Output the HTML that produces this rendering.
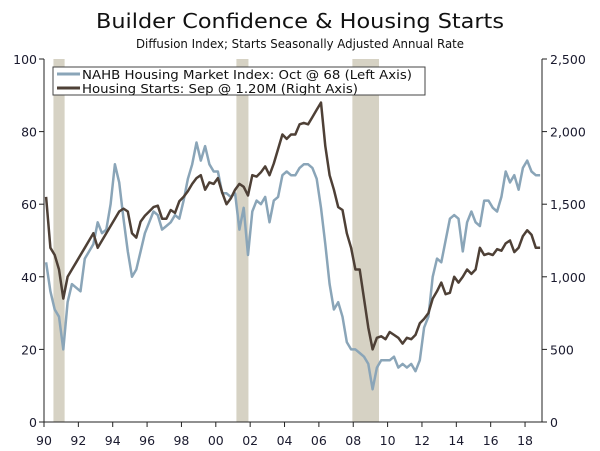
<!DOCTYPE html>
<html><head><meta charset="utf-8"><style>
body{margin:0;background:#fff}
svg{display:block;font-family:"DejaVu Sans","Liberation Sans",sans-serif}
</style></head><body>
<svg id="chart" width="600" height="451" xmlns="http://www.w3.org/2000/svg">
<text x="300" y="28" text-anchor="middle" font-size="20" fill="#111" textLength="408" lengthAdjust="spacingAndGlyphs">Builder Confidence &amp; Housing Starts</text>
<text x="300" y="48" text-anchor="middle" font-size="12" fill="#111" textLength="328" lengthAdjust="spacingAndGlyphs">Diffusion Index; Starts Seasonally Adjusted Annual Rate</text>
<g id="rec"></g><g id="axes"></g><g id="lines"></g>
<g>
<rect x="53" y="67" width="372" height="28" fill="#fff" stroke="#444" stroke-width="1"/>
<line x1="57" y1="74" x2="80" y2="74" stroke="#8aa5b8" stroke-width="3"/>
<text x="82" y="79" font-size="12" fill="#111" textLength="330" lengthAdjust="spacingAndGlyphs">NAHB Housing Market Index: Oct @ 68 (Left Axis)</text>
<line x1="57" y1="88" x2="80" y2="88" stroke="#4e4036" stroke-width="3"/>
<text x="82" y="93" font-size="12" fill="#111" textLength="276" lengthAdjust="spacingAndGlyphs">Housing Starts: Sep @ 1.20M (Right Axis)</text>
</g>
</svg>
<script>
const nahb=[44,36,31,29,20,33,38,37,36,45,47,49,55,52,53,60,71,66,56,47,40,42,47,52,55,58,57,53,54,55,57,56,61,67,71,77,72,76,71,69,69,63,63,62,63,53,59,46,58,61,60,62,55,61,62,68,69,68,68,70,71,71,70,67,59,49,38,31,33,29,22,20,20,19,18,16,9,15,17,17,17,18,15,16,15,16,14,17,26,29,40,45,44,50,56,57,56,47,55,58,55,54,61,61,59,58,62,69,66,68,64,70,72,69,68,68];
const starts=[1550,1200,1150,1050,850,1000,1050,1100,1150,1200,1250,1300,1200,1250,1300,1350,1400,1450,1470,1450,1300,1270,1380,1420,1450,1480,1490,1400,1400,1460,1440,1520,1550,1590,1640,1680,1700,1600,1650,1640,1680,1580,1500,1540,1600,1640,1620,1560,1700,1690,1720,1760,1700,1780,1880,1980,1950,1980,1980,2050,2060,2050,2100,2150,2200,1900,1700,1600,1480,1460,1300,1200,1050,1050,850,650,500,580,590,570,620,600,580,540,580,570,600,680,710,750,850,900,960,880,890,1000,960,1000,1050,1020,1050,1200,1150,1160,1150,1190,1180,1230,1250,1170,1200,1280,1320,1290,1200,1200];
const recessions=[[1990.55,1991.2],[2001.2,2001.9],[2007.95,2009.5]];
const xTickLabels=["90","92","94","96","98","00","02","04","06","08","10","12","14","16","18"];
const leftTicks=[0,20,40,60,80,100];
const rightTicks=["0","500","1,000","1,500","2,000","2,500"];
const NS="http://www.w3.org/2000/svg";
const X=t=>44+(t-1990)*17.18, YL=v=>422-v*3.63, YR=v=>YL(v/25);
function mk(tag,attrs,parent){const e=document.createElementNS(NS,tag);for(const k in attrs)e.setAttribute(k,attrs[k]);parent.appendChild(e);return e;}
const rec=document.getElementById('rec'),ax=document.getElementById('axes'),ln=document.getElementById('lines');
recessions.forEach(r=>{const e=mk('rect',{x:X(r[0]),y:59,width:X(r[1])-X(r[0]),height:363,fill:'#d6d2c4'},rec);

});
const a=mk('path',{d:'M44,59V422H542V59',fill:'none',stroke:'#222','stroke-width':1},ax);


xTickLabels.forEach((l,i)=>{const x=X(1990+2*i);mk('line',{x1:x,y1:422,x2:x,y2:427,stroke:'#222'},ax);
const t=mk('text',{x:x,y:445,'text-anchor':'middle','font-size':12.5,fill:'#1a1a2e'},ax);t.textContent=l;

});
leftTicks.forEach(v=>{const y=YL(v);mk('line',{x1:39,y1:y,x2:44,y2:y,stroke:'#222'},ax);
const t=mk('text',{x:37,y:y+5,'text-anchor':'end','font-size':12.5,fill:'#1a1a2e'},ax);t.textContent=v;

});
rightTicks.forEach((l,i)=>{const y=YR(i*500);mk('line',{x1:542,y1:y,x2:547,y2:y,stroke:'#222'},ax);
const t=mk('text',{x:550,y:y+5,'font-size':12.5,fill:'#1a1a2e'},ax);t.textContent=l;

});
function line(data,f,col,name){const d=data.map((v,i)=>(i?'L':'M')+X(1990+i*0.25+0.125).toFixed(1)+','+f(v).toFixed(1)).join('');
const p=mk('path',{d:d,fill:'none',stroke:col,'stroke-width':2.5,'stroke-linejoin':'round'},ln);

}
line(nahb,YL,'#8aa5b8','nahb-line');
line(starts,YR,'#4e4036','housing-starts-line');
</script>
</body></html>
